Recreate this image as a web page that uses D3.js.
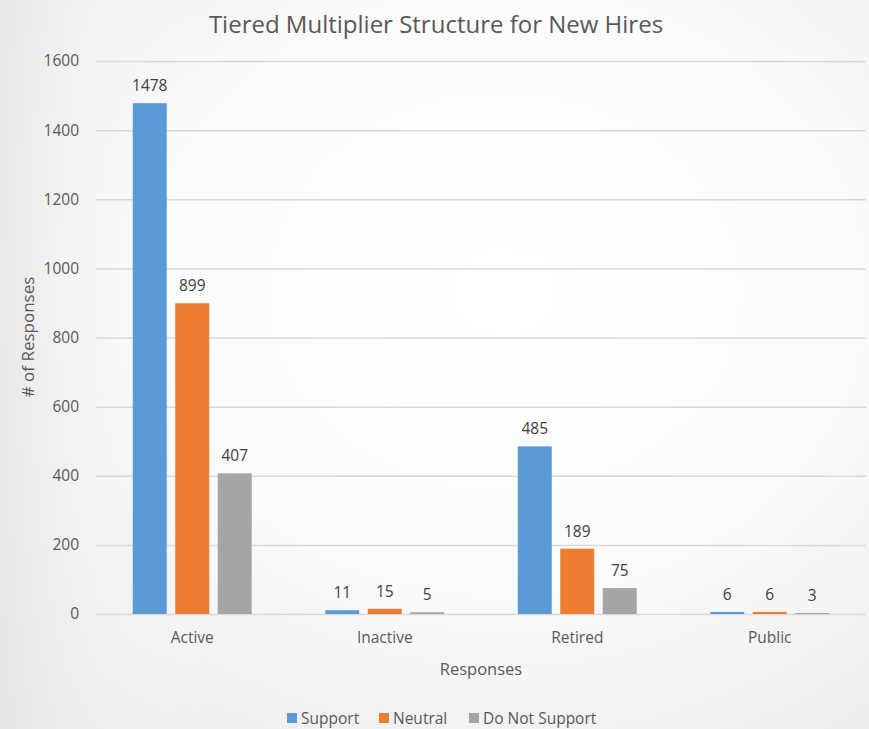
<!DOCTYPE html>
<html><head><meta charset="utf-8">
<script src="https://cdn.jsdelivr.net/npm/d3@7"></script>
<style>html,body{margin:0;padding:0;overflow:hidden;}svg{display:block;}</style>
</head><body>
<svg id="c" width="869" height="729"></svg>
<script>
const categories = ["Active", "Inactive", "Retired", "Public"];
const seriesNames = ["Support", "Neutral", "Do Not Support"];
const support = [1478, 11, 485, 6];
const neutral = [899, 15, 189, 6];
const doNotSupport = [407, 5, 75, 3];
const yTicks = [0, 200, 400, 600, 800, 1000, 1200, 1400, 1600];
const colors = ["#5B9BD5", "#ED7D31", "#A5A5A5"];
const seriesValues = [support, neutral, doNotSupport];

const font = "'Open Sans', 'Liberation Sans', sans-serif";
const svg = d3.select("#c");
const W = 869, H = 729;
const defs = svg.append("defs");
const g1 = defs.append("radialGradient").attr("id","bg").attr("cx","58%").attr("cy","40%").attr("r","80%");
g1.append("stop").attr("offset","0%").attr("stop-color","#ffffff");
g1.append("stop").attr("offset","50%").attr("stop-color","#fbfbfb");
g1.append("stop").attr("offset","100%").attr("stop-color","#e9e9e9");
svg.append("rect").attr("width",W).attr("height",H).attr("fill","url(#bg)");
const g2 = defs.append("linearGradient").attr("id","bg2").attr("x1","0").attr("y1","0").attr("x2","1").attr("y2","0");
g2.append("stop").attr("offset","0%").attr("stop-color","#e4e4e4").attr("stop-opacity",0.7);
g2.append("stop").attr("offset","12%").attr("stop-color","#f4f4f4").attr("stop-opacity",0.3);
g2.append("stop").attr("offset","25%").attr("stop-color","#ffffff").attr("stop-opacity",0);
svg.append("rect").attr("width",W).attr("height",H).attr("fill","url(#bg2)");

const m = {left: 96, right: 866, top: 61, bottom: 614};
const x = d3.scaleBand().domain(categories).range([m.left, m.right]);
const y = d3.scaleLinear().domain([0, 1600]).range([m.bottom, m.top]);
const xs = d3.scaleBand().domain(seriesNames).range([-59.5, 59.5]).paddingInner(0.2).paddingOuter(0);

// gridlines
const yAxis = d3.axisLeft(y).tickValues(yTicks).tickSize(-(m.right - m.left)).tickPadding(17).tickFormat(d3.format("d"));
const ga = svg.append("g").attr("transform", `translate(${m.left},0)`).call(yAxis);
ga.select(".domain").remove();
ga.selectAll(".tick line").attr("stroke", "#d9d9d9").attr("stroke-width", 1.5);
ga.selectAll(".tick text").attr("fill", "#595959").style("font-family", font).style("font-size", "15.5px");

// bars
const groups = svg.append("g").selectAll("g").data(categories).join("g")
  .attr("transform", d => `translate(${x(d) + x.bandwidth()/2},0)`);
seriesNames.forEach((s, si) => {
  groups.append("rect")
    .attr("x", xs(s)).attr("width", xs.bandwidth())
    .attr("y", (d, i) => y(seriesValues[si][i]))
    .attr("height", (d, i) => m.bottom - y(seriesValues[si][i]))
    .attr("fill", colors[si]);
  groups.append("text")
    .attr("x", xs(s) + xs.bandwidth()/2)
    .attr("y", (d, i) => y(seriesValues[si][i]) - 12)
    .attr("text-anchor", "middle")
    .attr("fill", "#404040").style("font-family", font).style("font-size", "15.5px")
    .text((d, i) => seriesValues[si][i]);
});

// x axis labels
const xAxis = d3.axisBottom(x).tickSize(0).tickPadding(18);
const gx = svg.append("g").attr("transform", `translate(0,${m.bottom})`).call(xAxis);
gx.select(".domain").remove();
gx.selectAll(".tick text").attr("fill", "#595959").style("font-family", font).style("font-size", "15.5px");

// title
svg.append("text").attr("x", 436).attr("y", 33).attr("text-anchor", "middle")
  .attr("fill", "#595959").style("font-family", font).style("font-size", "24px")
  .text("Tiered Multiplier Structure for New Hires");
// axis titles
svg.append("text").attr("x", 481).attr("y", 675).attr("text-anchor", "middle")
  .attr("fill", "#595959").style("font-family", font).style("font-size", "16.5px").text("Responses");
svg.append("text").attr("transform", "translate(34,337) rotate(-90)").attr("text-anchor", "middle")
  .attr("fill", "#595959").style("font-family", font).style("font-size", "17px").text("# of Responses");

// legend
const legendX = [287, 379, 469];
const lg = svg.append("g").selectAll("g").data(seriesNames).join("g")
  .attr("transform", (d, i) => `translate(${legendX[i]},713)`);
lg.append("rect").attr("width", 10).attr("height", 10).attr("fill", (d, i) => colors[i]);
lg.append("text").attr("x", 14).attr("y", 10.5).attr("fill", "#595959")
  .style("font-family", font).style("font-size", "15.5px").text(d => d);
</script>
</body></html>
